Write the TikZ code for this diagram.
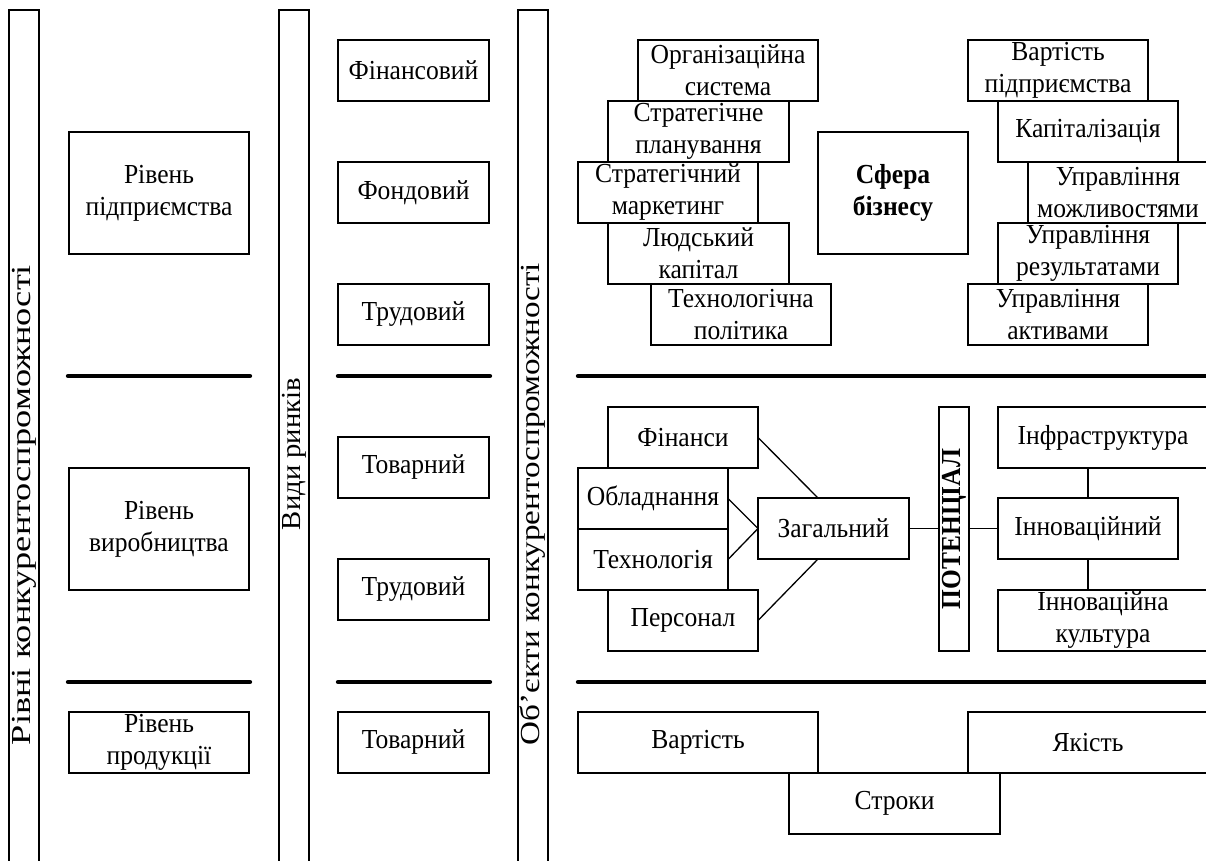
\documentclass[tikz,border=0pt]{standalone}
\usepackage{fontspec}
\setmainfont[FakeStretch=0.93]{Liberation Serif}
\newcommand\fs{\fontsize{27.5}{32}\selectfont}
\newcommand\bx[6]{\node[box, minimum width={(#4-#2)*1pt}, minimum height={(#5-#3)*1pt}] (#1) at ({(#2+#4)/2},{(#3+#5)/2}) {#6};}
\begin{document}
\begin{tikzpicture}[x=1pt,y=-1pt,
  box/.style={draw, line width=1.3pt, inner sep=0pt, outer sep=0pt, align=center, font=\fs},
  sepline/.style={line width=4.3pt, line cap=round},
  conn/.style={line width=1.3pt},
  bar/.style={draw, line width=1.3pt},
  bartext/.style={rotate=90, font=\fs, inner sep=0pt}]
\useasboundingbox (0,0) rectangle (1206,861);
\clip (0,0) rectangle (1206,861);
% vertical bars
\draw[bar] (9,10) rectangle (39,900);
\draw[bar] (279,10) rectangle (309,900);
\draw[bar] (518,10) rectangle (548,900);
\node[bartext] (t1) at (24,505) {\resizebox{480pt}{\height}{Рівні конкурентоспроможності}};
\node[bartext] (t2) at (294,454) {\resizebox{152pt}{\height}{Види ринків}};
\node[bartext] (t3) at (533,504) {\resizebox{482pt}{\height}{Об’єкти конкурентоспроможності}};
% separators
\coordinate (s1a) at (68,376); \coordinate (s1b) at (250,376);
\coordinate (s2a) at (338,376); \coordinate (s2b) at (490,376);
\coordinate (s3a) at (578,376); \coordinate (s3b) at (1215,376);
\coordinate (s4a) at (68,682); \coordinate (s4b) at (250,682);
\coordinate (s5a) at (338,682); \coordinate (s5b) at (490,682);
\coordinate (s6a) at (578,682); \coordinate (s6b) at (1215,682);
\draw[sepline] (s1a) -- (s1b); \draw[sepline] (s2a) -- (s2b); \draw[sepline] (s3a) -- (s3b);
\draw[sepline] (s4a) -- (s4b); \draw[sepline] (s5a) -- (s5b); \draw[sepline] (s6a) -- (s6b);
% left column
\bx{lev1}{69}{132}{249}{254}{Рівень\\підприємства}
\bx{lev2}{69}{468}{249}{590}{Рівень\\виробництва}
\bx{lev3}{69}{712}{249}{773}{Рівень\\продукції}
% markets
\bx{m1}{338}{40}{489}{101}{Фінансовий}
\bx{m2}{338}{162}{489}{223}{Фондовий}
\bx{m3}{338}{284}{489}{345}{Трудовий}
\bx{m4}{338}{437}{489}{498}{Товарний}
\bx{m5}{338}{559}{489}{620}{Трудовий}
\bx{m6}{338}{712}{489}{773}{Товарний}
% business sphere
\bx{a1}{638}{40}{818}{101}{Організаційна\\система}
\bx{a2}{608}{101}{789}{162}{Стратегічне\\планування}
\bx{a3}{578}{162}{758}{223}{Стратегічний\\маркетинг}
\bx{a4}{608}{223}{789}{284}{Людський\\капітал}
\bx{a5}{651}{284}{831}{345}{Технологічна\\політика}
\bx{sb}{818}{132}{968}{254}{\bfseries Сфера\\\bfseries бізнесу}
\bx{b1}{968}{40}{1148}{101}{Вартість\\підприємства}
\bx{b2}{998}{101}{1178}{162}{Капіталізація}
\bx{b3}{1028}{162}{1208}{223}{Управління\\можливостями}
\bx{b4}{998}{223}{1178}{284}{Управління\\результатами}
\bx{b5}{968}{284}{1148}{345}{Управління\\активами}
% potential
\bx{p1}{608}{407}{758}{468}{Фінанси}
\bx{p2}{578}{468}{728}{529}{Обладнання}
\bx{p3}{578}{529}{728}{590}{Технологія}
\bx{p4}{608}{590}{758}{651}{Персонал}
\bx{zag}{758}{498}{909}{559}{Загальний}
\bx{pot}{939}{407}{969}{651}{\rotatebox{90}{\resizebox{160pt}{\height}{\bfseries ПОТЕНЦІАЛ}}}
\bx{i1}{998}{407}{1208}{468}{Інфраструктура}
\bx{i2}{998}{498}{1178}{559}{Інноваційний}
\bx{i3}{998}{590}{1208}{651}{Інноваційна\\культура}
\coordinate (zt) at ([xshift=60pt]zag.north west);
\coordinate (zb) at ([xshift=60pt]zag.south west);
\draw[conn] (p1.east) -- (zt);
\draw[conn] (p4.east) -- (zb);
\draw[conn] (p2.east) -- (zag.west);
\draw[conn] (p3.east) -- (zag.west);
\draw[conn] (zag.east) -- (zag.east -| pot.west);
\draw[conn] (pot.east |- i2.west) -- (i2.west);
\draw[conn] (i2.north) -- (i2.north |- i1.south);
\draw[conn] (i2.south) -- (i2.south |- i3.north);
% bottom
\bx{c1}{578}{712}{818}{773}{Вартість}
\bx{c2}{789}{773}{1000}{834}{Строки}
\bx{c3}{968}{712}{1208}{773}{Якість}
\end{tikzpicture}
\end{document}
